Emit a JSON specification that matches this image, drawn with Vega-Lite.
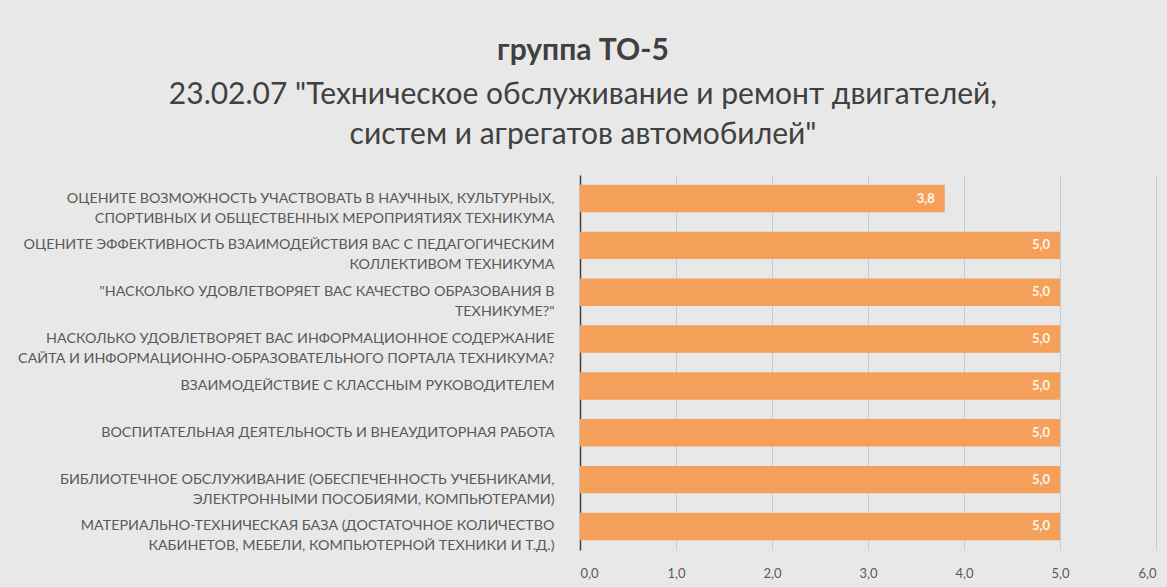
{
  "$schema": "https://vega.github.io/schema/vega-lite/v6.json",
  "width": 576,
  "height": 375,
  "autosize": {"type": "none"},
  "padding": {"left": 580, "top": 175, "right": 11, "bottom": 37},
  "background": "#e8e8e8",
  "title": {
    "text": "группа ТО-5",
    "subtitle": ["23.02.07 \"Техническое обслуживание и ремонт двигателей,", "систем и агрегатов автомобилей\""],
    "anchor": "middle",
    "dx": -285,
    "offset": 25,
    "font": "Lato",
    "fontSize": 30,
    "fontWeight": "bold",
    "color": "#404040",
    "subtitleFont": "Lato",
    "subtitleFontSize": 30,
    "subtitleColor": "#404040",
    "subtitleLineHeight": 40,
    "subtitlePadding": 14
  },
  "data": {
    "values": [
      {"q": "ОЦЕНИТЕ ВОЗМОЖНОСТЬ УЧАСТВОВАТЬ В НАУЧНЫХ, КУЛЬТУРНЫХ,|СПОРТИВНЫХ И ОБЩЕСТВЕННЫХ МЕРОПРИЯТИЯХ ТЕХНИКУМА", "v": 3.8},
      {"q": "ОЦЕНИТЕ ЭФФЕКТИВНОСТЬ ВЗАИМОДЕЙСТВИЯ ВАС С ПЕДАГОГИЧЕСКИМ|КОЛЛЕКТИВОМ ТЕХНИКУМА", "v": 5.0},
      {"q": "\"НАСКОЛЬКО УДОВЛЕТВОРЯЕТ ВАС КАЧЕСТВО ОБРАЗОВАНИЯ В|ТЕХНИКУМЕ?\"", "v": 5.0},
      {"q": "НАСКОЛЬКО УДОВЛЕТВОРЯЕТ ВАС ИНФОРМАЦИОННОЕ СОДЕРЖАНИЕ|САЙТА И ИНФОРМАЦИОННО-ОБРАЗОВАТЕЛЬНОГО ПОРТАЛА ТЕХНИКУМА?", "v": 5.0},
      {"q": "ВЗАИМОДЕЙСТВИЕ С КЛАССНЫМ РУКОВОДИТЕЛЕМ", "v": 5.0},
      {"q": "ВОСПИТАТЕЛЬНАЯ ДЕЯТЕЛЬНОСТЬ И ВНЕАУДИТОРНАЯ РАБОТА", "v": 5.0},
      {"q": "БИБЛИОТЕЧНОЕ ОБСЛУЖИВАНИЕ (ОБЕСПЕЧЕННОСТЬ УЧЕБНИКАМИ,|ЭЛЕКТРОННЫМИ ПОСОБИЯМИ, КОМПЬЮТЕРАМИ)", "v": 5.0},
      {"q": "МАТЕРИАЛЬНО-ТЕХНИЧЕСКАЯ БАЗА (ДОСТАТОЧНОЕ КОЛИЧЕСТВО|КАБИНЕТОВ, МЕБЕЛИ, КОМПЬЮТЕРНОЙ ТЕХНИКИ И Т.Д.)", "v": 5.0}
    ]
  },
  "encoding": {
    "y": {
      "field": "q",
      "type": "nominal",
      "sort": null,
      "scale": {"paddingInner": 0.415, "paddingOuter": 0.21},
      "axis": {
        "title": null,
        "labelExpr": "split(datum.label, '|')",
        "labelFont": "Lato",
        "labelFontSize": 14.3,
        "labelColor": "#595959",
        "labelLineHeight": 20,
        "labelPadding": 26,
        "labelLimit": 700,
        "ticks": false,
        "domain": true,
        "domainColor": "#404040",
        "domainWidth": 1.5,
        "grid": false
      }
    },
    "x": {
      "field": "v",
      "type": "quantitative",
      "scale": {"domain": [0, 6], "nice": false},
      "axis": {
        "title": null,
        "values": [0, 1, 2, 3, 4, 5, 6],
        "format": ".1f",
        "labelFont": "Lato",
        "labelFontSize": 13,
        "labelColor": "#595959",
        "labelPadding": 17,
        "domain": false,
        "ticks": false,
        "grid": true,
        "gridColor": "#c6ccd4",
        "gridWidth": 1
      }
    }
  },
  "layer": [
    {"mark": {"type": "bar", "color": "#F4A05A"}},
    {
      "mark": {"type": "text", "align": "right", "dx": -10, "font": "Lato", "fontSize": 13, "fontWeight": "bold", "color": "#FFF5EA"},
      "encoding": {"text": {"field": "v", "type": "quantitative", "format": ".1f"}}
    }
  ],
  "config": {
    "view": {"stroke": null},
    "locale": {"number": {"decimal": ",", "thousands": " ", "grouping": [3], "currency": ["", " ₽"]}}
  }
}
